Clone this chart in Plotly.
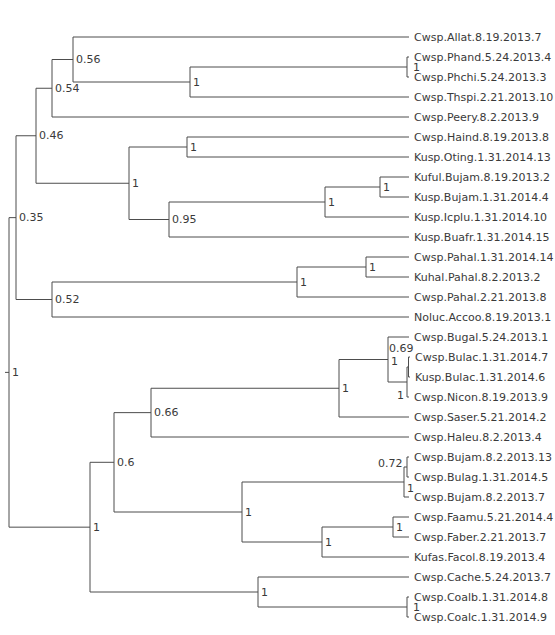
import plotly.graph_objects as go

# ---- tree data: node, parent, branch length, support ----
node_ids = [
    "root", "A", "B", "C", "D", "Cwsp.Allat.8.19.2013.7", "E", "F",
    "Cwsp.Phand.5.24.2013.4", "Cwsp.Phchi.5.24.2013.3", "Cwsp.Thspi.2.21.2013.10",
    "Cwsp.Peery.8.2.2013.9", "G", "H", "Cwsp.Haind.8.19.2013.8", "Kusp.Oting.1.31.2014.13",
    "I", "J", "K", "Kuful.Bujam.8.19.2013.2", "Kusp.Bujam.1.31.2014.4",
    "Kusp.Icplu.1.31.2014.10", "Kusp.Buafr.1.31.2014.15", "L", "M", "N",
    "Cwsp.Pahal.1.31.2014.14", "Kuhal.Pahal.8.2.2013.2", "Cwsp.Pahal.2.21.2013.8",
    "Noluc.Accoo.8.19.2013.1", "O", "P", "Q", "S", "T", "Cwsp.Bugal.5.24.2013.1",
    "U", "V", "Cwsp.Bulac.1.31.2014.7", "Kusp.Bulac.1.31.2014.6", "Cwsp.Nicon.8.19.2013.9",
    "Cwsp.Saser.5.21.2014.2", "Cwsp.Haleu.8.2.2013.4", "W", "X", "Y",
    "Cwsp.Bujam.8.2.2013.13", "Cwsp.Bulag.1.31.2014.5", "Cwsp.Bujam.8.2.2013.7",
    "Z", "AA", "Cwsp.Faamu.5.21.2014.4", "Cwsp.Faber.2.21.2013.7", "Kufas.Facol.8.19.2013.4",
    "AB", "Cwsp.Cache.5.24.2013.7", "AC", "Cwsp.Coalb.1.31.2014.8", "Cwsp.Coalc.1.31.2014.9",
]
parent_ids = [
    None, "root", "A", "B", "C", "D", "D", "E",
    "F", "F", "E",
    "C", "B", "G", "H", "H",
    "G", "I", "J", "K", "K",
    "J", "I", "A", "L", "M",
    "N", "N", "M",
    "L", "root", "O", "P", "Q", "S", "T",
    "T", "U", "V", "V", "U",
    "S", "Q", "P", "W", "X",
    "Y", "Y", "X",
    "W", "Z", "AA", "AA", "Z",
    "O", "AB", "AB", "AC", "AC",
]
branch_lengths = [
    0.004, 0.007, 0.020, 0.016, 0.021, 0.336, 0.117, 0.217,
    0.002, 0.002, 0.219,
    0.357, 0.093, 0.058, 0.222, 0.222,
    0.040, 0.156, 0.055, 0.029, 0.029,
    0.084, 0.240, 0.036, 0.245, 0.069,
    0.043, 0.043, 0.112,
    0.357, 0.081, 0.024, 0.037, 0.188, 0.049, 0.021,
    0.019, 0.0015, 0.0015, 0.0015, 0.002,
    0.070, 0.258, 0.128, 0.162, 0.003,
    0.002, 0.002, 0.005,
    0.080, 0.071, 0.016, 0.016, 0.087,
    0.168, 0.151, 0.149, 0.002, 0.002,
]
support_values = {
    "root": "1", "A": "0.35", "B": "0.46", "C": "0.54", "D": "0.56", "E": "1", "F": "1",
    "G": "1", "H": "1", "I": "0.95", "J": "1", "K": "1", "L": "0.52", "M": "1", "N": "1",
    "O": "1", "P": "0.6", "Q": "0.66", "S": "1", "T": "0.69", "U": "1", "V": "1",
    "W": "1", "X": "1", "Y": "0.72", "Z": "1", "AA": "1", "AB": "1", "AC": "1",
}

# label nudges (pixels) for crowded nodes: (xanchor, xshift, yshift)
label_nudge = {
    "F": ("left", 4, 0), "AC": ("left", 4, 0),
    "Y": ("right", -2, 4), "X": ("left", 1, -6),
    "T": ("left", -1, 11), "V": ("left", -20, 6), "U": ("right", -1, -13),
}

# ---- layout computation ----
children = {n: [] for n in node_ids}
length_of = dict(zip(node_ids, branch_lengths))
for n, p in zip(node_ids, parent_ids):
    if p is not None:
        children[p].append(n)

xpos, ypos = {}, {}
leaf_counter = [0]


def place(node, px):
    xpos[node] = px + length_of[node]
    if not children[node]:
        ypos[node] = leaf_counter[0]
        leaf_counter[0] += 1
    else:
        for c in children[node]:
            place(c, xpos[node])
        ypos[node] = (ypos[children[node][0]] + ypos[children[node][-1]]) / 2


place("root", 0.0)

lx, ly = [], []
# root stub
lx += [0.0, xpos["root"], None]
ly += [ypos["root"], ypos["root"], None]
for n, p in zip(node_ids, parent_ids):
    if p is not None:
        lx += [xpos[p], xpos[n], None]
        ly += [ypos[n], ypos[n], None]
    if children[n]:
        lx += [xpos[n], xpos[n], None]
        ly += [ypos[children[n][0]], ypos[children[n][-1]], None]

fig = go.Figure()
fig.add_trace(go.Scatter(x=lx, y=ly, mode="lines",
                         line=dict(color="#4d4d4d", width=1),
                         hoverinfo="skip", showlegend=False))

annotations = []
font = dict(family="DejaVu Sans", size=11, color="#3a3a3a")
for n in node_ids:
    if not children[n]:
        annotations.append(dict(x=xpos[n], y=ypos[n], text=n, showarrow=False,
                                xanchor="left", yanchor="middle", xshift=3,
                                font=font))
    else:
        anchor, xs, ys = label_nudge.get(n, ("left", 1, 0))
        annotations.append(dict(x=xpos[n], y=ypos[n], text=support_values[n],
                                showarrow=False, xanchor=anchor, yanchor="middle",
                                xshift=xs, yshift=ys, font=font))

fig.update_layout(
    width=555, height=635,
    margin=dict(l=0, r=0, t=0, b=0),
    paper_bgcolor="white", plot_bgcolor="white",
    xaxis=dict(range=[-0.005, 0.550], visible=False, fixedrange=True),
    yaxis=dict(range=[29.9, -1.85], visible=False, fixedrange=True),
    annotations=annotations,
    showlegend=False,
)

fig.write_html(
    "out.html",
    config={"displayModeBar": False},
    post_script="document.body.style.margin='0';document.body.style.overflow='hidden';",
)
